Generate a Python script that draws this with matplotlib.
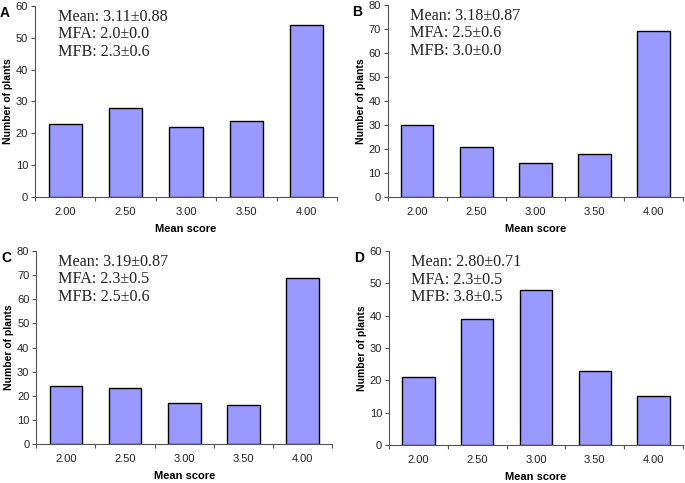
import numpy as np
import matplotlib.pyplot as plt

# data
scores = ["2.00", "2.50", "3.00", "3.50", "4.00"]
counts_a = [23, 28, 22, 24, 54]
counts_b = [30, 21, 14, 18, 69]
counts_c = [24, 23, 17, 16, 69]
counts_d = [21, 39, 48, 23, 15]
ymax = [60, 80, 80, 60]
letters = ["A", "B", "C", "D"]
notes = [
    ["Mean: 3.11\u00b10.88", "MFA: 2.0\u00b10.0", "MFB: 2.3\u00b10.6"],
    ["Mean: 3.18\u00b10.87", "MFA: 2.5\u00b10.6", "MFB: 3.0\u00b10.0"],
    ["Mean: 3.19\u00b10.87", "MFA: 2.3\u00b10.5", "MFB: 2.5\u00b10.6"],
    ["Mean: 2.80\u00b10.71", "MFA: 2.3\u00b10.5", "MFB: 3.8\u00b10.5"],
]

plt.rcParams["font.family"] = ["Liberation Sans", "DejaVu Sans"]

fig = plt.figure(figsize=(6.85, 4.83), dpi=100)

# axes boxes in figure fraction (left, bottom, width, height)
boxes = [
    (0.051, 0.592, 0.441, 0.396),
    (0.566, 0.592, 0.431, 0.398),
    (0.053, 0.081, 0.432, 0.399),
    (0.568, 0.079, 0.429, 0.401),
]

axis_col = "#555555"
x = np.arange(len(scores))

for i, (counts, box) in enumerate(zip([counts_a, counts_b, counts_c, counts_d], boxes)):
    ax = fig.add_axes(box)
    ax.bar(x, counts, width=0.55, color="#9999ff", edgecolor="black", linewidth=1.0, zorder=3)
    ax.set_xlim(-0.5, len(scores) - 0.5)
    ax.set_ylim(0, ymax[i])
    ax.set_yticks(np.arange(0, ymax[i] + 1, 10))
    ax.set_xticks(x)
    ax.set_xticklabels(scores)
    ax.set_xticks(np.arange(-0.5, len(scores), 1.0), minor=True)
    ax.tick_params(axis="x", which="major", length=0, pad=7, labelsize=8, colors="#222222")
    ax.tick_params(axis="x", which="minor", length=3, color=axis_col, width=0.8)
    ax.tick_params(axis="y", length=3, width=0.8, color=axis_col, labelsize=8, pad=2, labelcolor="#222222")
    for s in ["top", "right"]:
        ax.spines[s].set_visible(False)
    for s in ["left", "bottom"]:
        ax.spines[s].set_color(axis_col)
        ax.spines[s].set_linewidth(0.8)
    ax.set_xlabel("Mean score", fontsize=8, fontweight="bold", labelpad=5)
    ax.set_ylabel("Number of plants", fontsize=7.5, fontweight="bold", labelpad=2)
    ax.text(-0.085, 1.0, letters[i], transform=ax.transAxes, fontsize=10,
            fontweight="bold", ha="right", va="top")
    ax.text(0.075, 0.985, "\n".join(notes[i]), transform=ax.transAxes,
            family="Liberation Serif", fontsize=11.6, va="top", ha="left",
            linespacing=1.12, color="#222222")

fig.savefig("out.png", dpi=100)
